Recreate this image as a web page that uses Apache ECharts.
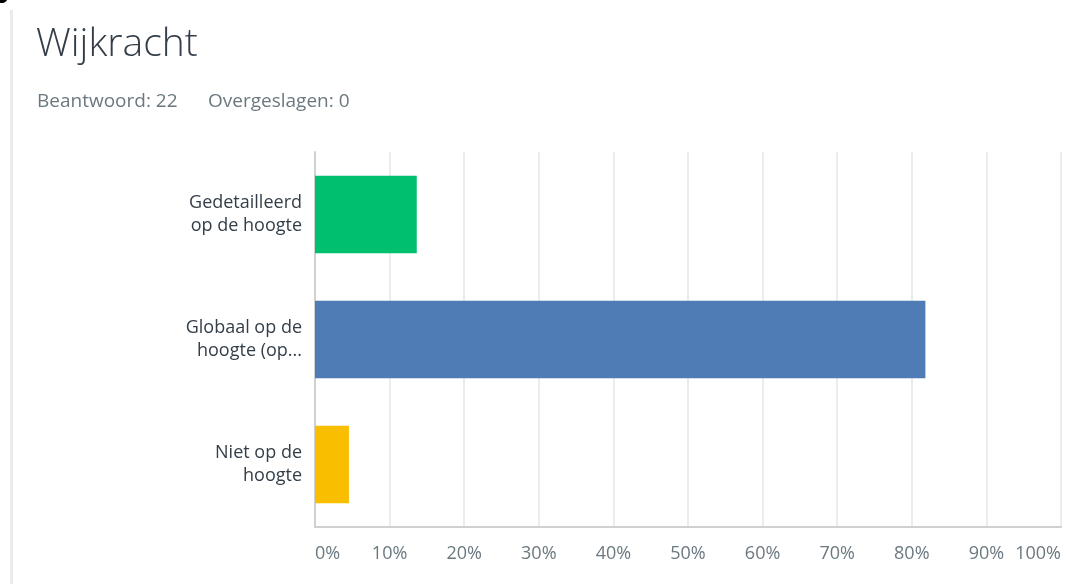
<!DOCTYPE html>
<html>
<head>
<meta charset="utf-8">
<script src="https://cdn.jsdelivr.net/npm/echarts@6/dist/echarts.min.js"></script>
<style>
  html, body { margin: 0; padding: 0; background: #fff; }
  #chart { width: 1071px; height: 584px; }
</style>
</head>
<body>
<div id="chart"></div>
<script>
// Answer options (as shown, with their line breaks)
const categories = ['Gedetailleerd\nop de hoogte', 'Globaal op de\nhoogte (op...', 'Niet op de\nhoogte'];
// Share of respondents per option, in percent
const values = [13.64, 81.82, 4.55];
const barColors = ['#00bf6f', '#507cb6', '#f9be00'];
const xTicks = [0, 10, 20, 30, 40, 50, 60, 70, 80, 90, 100];

const titleText = 'Wijkracht';
const answeredText = 'Beantwoord: 22';
const skippedText = 'Overgeslagen: 0';

const FONT = '"Open Sans", sans-serif';

const chart = echarts.init(document.getElementById('chart'), null, { renderer: 'canvas' });
chart.setOption({
  animation: false,
  backgroundColor: '#fff',
  textStyle: { fontFamily: FONT },
  graphic: [
    { type: 'text', left: -1, top: -23, style: { text: 'y', font: 'bold 26px ' + FONT, fill: '#000' } },
    { type: 'rect', left: 10, top: 10, shape: { width: 3, height: 580 }, style: { fill: '#ebebeb' } },
    { type: 'text', left: 36, top: 25, style: { text: titleText, font: '300 39px ' + FONT, fill: '#333e48' } },
    { type: 'text', left: 37, top: 92, style: { text: answeredText, font: '19px ' + FONT, fill: '#6b787f' } },
    { type: 'text', left: 208, top: 92, style: { text: skippedText, font: '19px ' + FONT, fill: '#6b787f' } }
  ],
  grid: { left: 315, right: 10, top: 152, bottom: 57, containLabel: false },
  xAxis: {
    type: 'value',
    min: xTicks[0],
    max: xTicks[xTicks.length - 1],
    interval: 10,
    axisLine: { show: true, lineStyle: { color: '#d0d0d0', width: 2 } },
    axisTick: { show: false },
    splitLine: { show: true, lineStyle: { color: '#ececec', width: 2 } },
    axisLabel: {
      color: '#6b787f', fontSize: 18, margin: 18,
      alignMinLabel: 'left', alignMaxLabel: 'right',
      formatter: v => v + '%'
    }
  },
  yAxis: {
    type: 'category',
    data: categories,
    inverse: true,
    axisLine: { show: true, lineStyle: { color: '#d0d0d0', width: 2 } },
    axisTick: { show: false },
    axisLabel: { color: '#333e48', fontSize: 18, lineHeight: 23, margin: 13, align: 'right' }
  },
  series: [{
    type: 'bar',
    barWidth: '62%',
    data: values.map((v, i) => ({ value: v, itemStyle: { color: barColors[i] } })),
    label: { show: false }
  }]
});
</script>
</body>
</html>
